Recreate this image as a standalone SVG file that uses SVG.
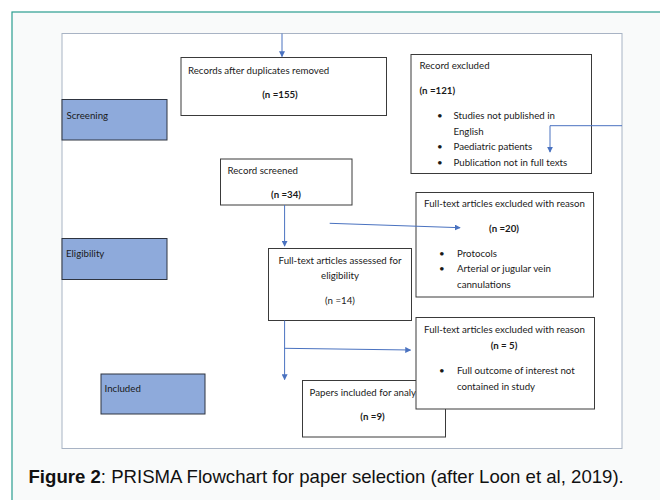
<svg xmlns="http://www.w3.org/2000/svg" width="660" height="500" viewBox="0 0 660 500">
<defs>
<style>
.box{fill:#fff;stroke:#3a3a3a;stroke-width:1}
.phase{fill:#8eaadb;stroke:#2e3440;stroke-width:1}
.t{font-family:Lato,"Liberation Sans",sans-serif;font-size:9.7px;fill:#1a1a1a}
.b{font-weight:bold}
.m{text-anchor:middle}
.con{fill:none;stroke:#4a72c0;stroke-width:1}
</style>
<marker id="ah" viewBox="0 0 8 8" refX="7" refY="4" markerWidth="6" markerHeight="6" orient="auto" markerUnits="userSpaceOnUse">
<path d="M0,0 L8,4 L0,8 z" fill="#4a72c0"/>
</marker>
</defs>
<rect x="0" y="0" width="660" height="500" fill="#ffffff"/>
<rect x="12" y="12" width="660" height="500" fill="#f9fafa" stroke="#2a9d8f" stroke-width="1.2"/>
<rect x="62" y="33.5" width="560" height="415" fill="#ffffff" stroke="#a8b3c4" stroke-width="1"/>

<g id="screening"><rect class="phase" x="62" y="99.5" width="105" height="40.5"/><text class="t" x="66.5" y="119">Screening</text></g>
<g id="eligibility"><rect class="phase" x="62" y="238.5" width="105" height="41"/><text class="t" x="66" y="257">Eligibility</text></g>
<g id="included"><rect class="phase" x="101" y="374" width="104" height="40"/><text class="t" x="104.5" y="392">Included</text></g>

<g id="dup"><rect class="box" x="181" y="57.5" width="205.5" height="58"/>
<text class="t" x="188" y="74">Records after duplicates removed</text>
<text class="t b m" x="280" y="97.5">(n =155)</text></g>

<g id="excl1"><rect class="box" x="411" y="54.5" width="180.5" height="119"/>
<text class="t" x="419.5" y="69">Record excluded</text>
<text class="t b" x="419.5" y="94">(n =121)</text>
<g class="t"><text x="437" y="119">•</text><text x="453.5" y="119">Studies not published in</text>
<text x="453.5" y="134.5">English</text>
<text x="437" y="150">•</text><text x="453.5" y="150">Paediatric patients</text>
<text x="437" y="166">•</text><text x="453.5" y="166">Publication not in full texts</text></g></g>

<g id="screened"><rect class="box" x="220.5" y="159" width="131.5" height="46"/>
<text class="t" x="227.5" y="174">Record screened</text>
<text class="t b m" x="286" y="197.5">(n =34)</text></g>

<g id="excl2"><rect class="box" x="416" y="192.5" width="177.5" height="104.5"/>
<text class="t m" x="504.5" y="206.5">Full-text articles excluded with reason</text>
<text class="t b m" x="504" y="231.5">(n =20)</text>
<g class="t"><text x="439" y="256.5">•</text><text x="457" y="256.5">Protocols</text>
<text x="439" y="272">•</text><text x="457" y="272">Arterial or jugular vein</text>
<text x="457" y="287.5">cannulations</text></g></g>

<g id="assessed"><rect class="box" x="268.5" y="248.5" width="143" height="72"/>
<text class="t m" x="340" y="263.5">Full-text articles assessed for</text>
<text class="t m" x="340" y="279">eligibility</text>
<text class="t m" x="340" y="303.5">(n =14)</text></g>

<g id="papers"><rect class="box" x="302.5" y="380.5" width="143" height="56.5"/>
<text class="t" x="309.5" y="396">Papers included for analysis</text>
<text class="t b m" x="372.5" y="420">(n =9)</text></g>

<g id="excl3"><rect class="box" x="416" y="317.5" width="178.5" height="91.5"/>
<text class="t m" x="504.5" y="333">Full-text articles excluded with reason</text>
<text class="t b m" x="504" y="348.5">(n = 5)</text>
<g class="t"><text x="439" y="373.5">•</text><text x="457" y="373.5">Full outcome of interest not</text>
<text x="457" y="390">contained in study</text></g></g>

<g id="connectors">
<path class="con" d="M282,33.5 V56.5" marker-end="url(#ah)"/>
<path class="con" d="M622,125.7 H550 V152" marker-end="url(#ah)"/>
<path class="con" d="M284.6,205 V246" marker-end="url(#ah)"/>
<path class="con" d="M329.7,223.3 L460,227.7" marker-end="url(#ah)"/>
<path class="con" d="M284.6,320.5 V379.5" marker-end="url(#ah)"/>
<path class="con" d="M284.6,348.3 L410.5,350" marker-end="url(#ah)"/>
</g>

<text x="28.5" y="482.5" font-family="Liberation Sans,Arial,sans-serif" font-size="18.6" fill="#111"><tspan font-weight="bold">Figure 2</tspan>: PRISMA Flowchart for paper selection (after Loon et al, 2019).</text>
</svg>
